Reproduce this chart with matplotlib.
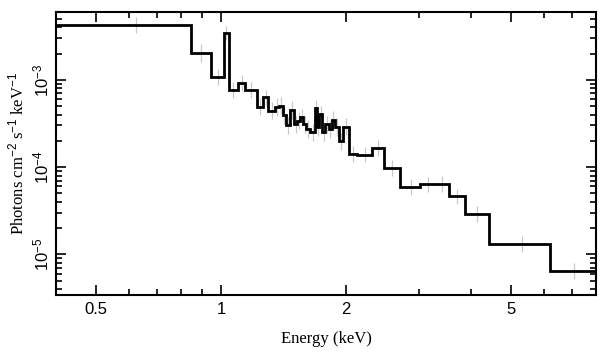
import matplotlib
matplotlib.use("Agg")
import matplotlib.pyplot as plt
import numpy as np

# Bin edges (keV) and unfolded flux per bin (photons cm^-2 s^-1 keV^-1)
edges = [0.40, 0.846, 0.944, 1.017, 1.042, 1.099, 1.141, 1.217, 1.262, 1.298,
         1.347, 1.379, 1.410, 1.431, 1.463, 1.499, 1.524, 1.552, 1.575, 1.605,
         1.641, 1.680, 1.702, 1.721, 1.754, 1.783, 1.816, 1.846, 1.877, 1.922,
         1.965, 2.032, 2.124, 2.313, 2.462, 2.701, 3.017, 3.284, 3.535, 3.861,
         4.410, 6.195, 8.0]
flux = [4.29e-3, 2.04e-3, 1.07e-3, 3.45e-3, 7.7e-4, 9.2e-4, 7.7e-4, 4.95e-4,
        6.3e-4, 4.45e-4, 4.86e-4, 5.08e-4, 3.91e-4, 3.00e-4, 4.54e-4, 3.08e-4,
        3.42e-4, 3.73e-4, 3.08e-4, 2.75e-4, 2.51e-4, 4.73e-4, 2.87e-4, 4.01e-4,
        2.51e-4, 3.08e-4, 2.75e-4, 3.48e-4, 2.87e-4, 1.98e-4, 2.92e-4, 1.42e-4,
        1.39e-4, 1.67e-4, 9.85e-5, 5.90e-5, 6.34e-5, 6.46e-5, 4.62e-5, 2.88e-5,
        1.31e-5, 6.41e-6]
# error bar half-length, in decades
err_dex = [0.09, 0.10, 0.09, 0.08, 0.09, 0.09, 0.09, 0.10, 0.09, 0.10,
           0.10, 0.10, 0.10, 0.10, 0.10, 0.10, 0.10, 0.10, 0.10, 0.10,
           0.10, 0.10, 0.10, 0.10, 0.10, 0.10, 0.10, 0.10, 0.10, 0.10,
           0.10, 0.09, 0.09, 0.09, 0.09, 0.09, 0.09, 0.09, 0.09, 0.09,
           0.09, 0.09]

edges = np.array(edges)
flux = np.array(flux)
err_dex = np.array(err_dex)
centers = 0.5 * (edges[:-1] + edges[1:])
lo = flux - flux * 10 ** (-err_dex)
hi = flux * 10 ** err_dex - flux

serif = ["Liberation Serif", "DejaVu Serif"]
sans = ["Liberation Sans", "DejaVu Sans"]
plt.rcParams["font.family"] = sans
plt.rcParams["mathtext.fontset"] = "custom"
plt.rcParams["mathtext.rm"] = "Liberation Sans"
plt.rcParams["mathtext.it"] = "Liberation Sans:italic"

fig = plt.figure(figsize=(6.09, 3.57), dpi=100)
ax = fig.add_axes([0.092, 0.1737, 0.8867, 0.7927])

ax.errorbar(centers, flux, yerr=[lo, hi], fmt="none", ecolor="#c8c8c8",
            elinewidth=0.9, capsize=0, zorder=1)
ax.stairs(flux, edges, color="black", linewidth=2.0, baseline=None, zorder=2)

ax.set_xscale("log")
ax.set_yscale("log")
ax.set_xlim(0.4, 8.0)
ax.set_ylim(3.42e-6, 6.0e-3)

ax.set_xticks([0.5, 1, 2, 5])
ax.set_xticklabels(["0.5", "1", "2", "5"])
ax.set_xticks([0.4, 0.6, 0.7, 0.8, 0.9, 3, 4, 6, 7, 8], minor=True)
ax.xaxis.set_minor_formatter(matplotlib.ticker.NullFormatter())

for s in ax.spines.values():
    s.set_linewidth(1.5)
ax.tick_params(which="both", direction="in", top=True, right=True,
               width=1.2, labelsize=12)
ax.tick_params(which="major", length=7)
ax.tick_params(which="minor", length=4)
ax.tick_params(axis="x", pad=5)
ax.tick_params(axis="y", pad=3)
for lab in ax.get_yticklabels():
    lab.set_rotation(90)
    lab.set_va("center")

ax.set_xlabel("Energy (keV)", family=serif, fontsize=12, labelpad=10)
ax.set_ylabel("Photons cm$^{-2}$ s$^{-1}$ keV$^{-1}$", family=serif,
              fontsize=12, labelpad=3)

fig.savefig("out.png", dpi=100)
